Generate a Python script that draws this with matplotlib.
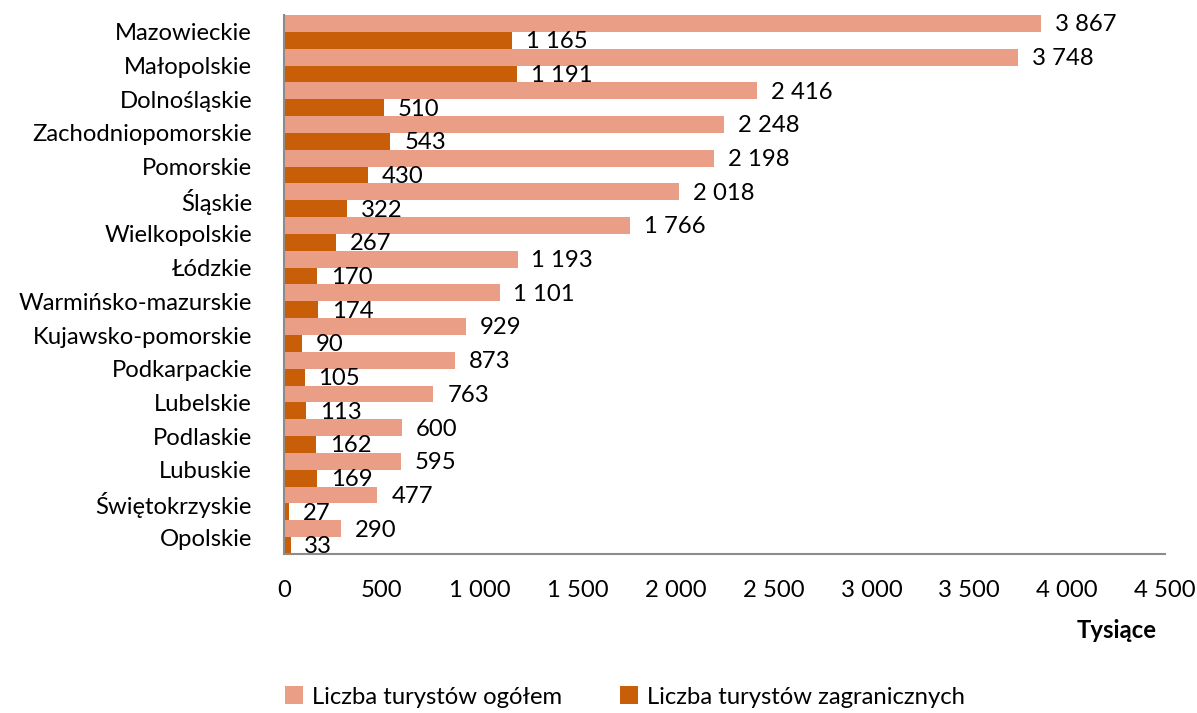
import matplotlib
matplotlib.use("Agg")
import matplotlib.pyplot as plt
import numpy as np

plt.rcParams['font.family'] = ['Lato', 'DejaVu Sans']

regions = ["Mazowieckie", "Małopolskie", "Dolnośląskie", "Zachodniopomorskie", "Pomorskie",
           "Śląskie", "Wielkopolskie", "Łódzkie", "Warmińsko-mazurskie", "Kujawsko-pomorskie",
           "Podkarpackie", "Lubelskie", "Podlaskie", "Lubuskie", "Świętokrzyskie", "Opolskie"]
total = [3867, 3748, 2416, 2248, 2198, 2018, 1766, 1193, 1101, 929, 873, 763, 600, 595, 477, 290]
foreign = [1165, 1191, 510, 543, 430, 322, 267, 170, 174, 90, 105, 113, 162, 169, 27, 33]
xticks = [0, 500, 1000, 1500, 2000, 2500, 3000, 3500, 4000, 4500]
series_names = ["Liczba turystów ogółem", "Liczba turystów zagranicznych"]
colors = ["#EA9E86", "#C85F08"]

def fmt(v):
    return f"{v:,}".replace(",", " ")

fig = plt.figure(figsize=(11.97, 7.13), dpi=100)
ax = fig.add_axes([0.2373, 0.223, 0.736, 0.756])

y = np.arange(len(regions))
h = 0.5
b1 = ax.barh(y - h / 2, total, height=h, color=colors[0], label=series_names[0])
b2 = ax.barh(y + h / 2, foreign, height=h, color=colors[1], label=series_names[1])

fs = 17.2
for bars, vals in ((b1, total), (b2, foreign)):
    for bar, v in zip(bars, vals):
        ax.annotate(fmt(v), (bar.get_width(), bar.get_y() + bar.get_height() / 2),
                    xytext=(10, -1), textcoords="offset points", ha="left", va="center",
                    fontsize=fs, color="black")

ax.set_xlim(0, 4500)
ax.set_ylim(len(regions) - 0.5, -0.5)
ax.set_xticks(xticks)
ax.set_xticklabels([fmt(t) for t in xticks], fontsize=fs)
ax.set_yticks(y)
ax.set_yticklabels(regions, fontsize=fs)
ax.tick_params(axis="x", length=0, pad=19)
ax.tick_params(axis="y", length=0, pad=23)

for s in ("top", "right"):
    ax.spines[s].set_visible(False)
for s in ("left", "bottom"):
    ax.spines[s].set_color("#8C8C8C")
    ax.spines[s].set_linewidth(1.5)

fig.text(1117 / 1197, 1 - 631 / 713, "Tysiące", fontsize=fs, fontweight="bold",
         ha="center", va="center")

leg = fig.legend(handles=[b1, b2], labels=series_names, loc="center",
                 bbox_to_anchor=(625 / 1197, 1 - 697 / 713), ncol=2, frameon=False,
                 fontsize=fs, handlelength=0.75, handleheight=0.75, handletextpad=0.4,
                 columnspacing=2.4)

fig.savefig("out.png", dpi=100)
